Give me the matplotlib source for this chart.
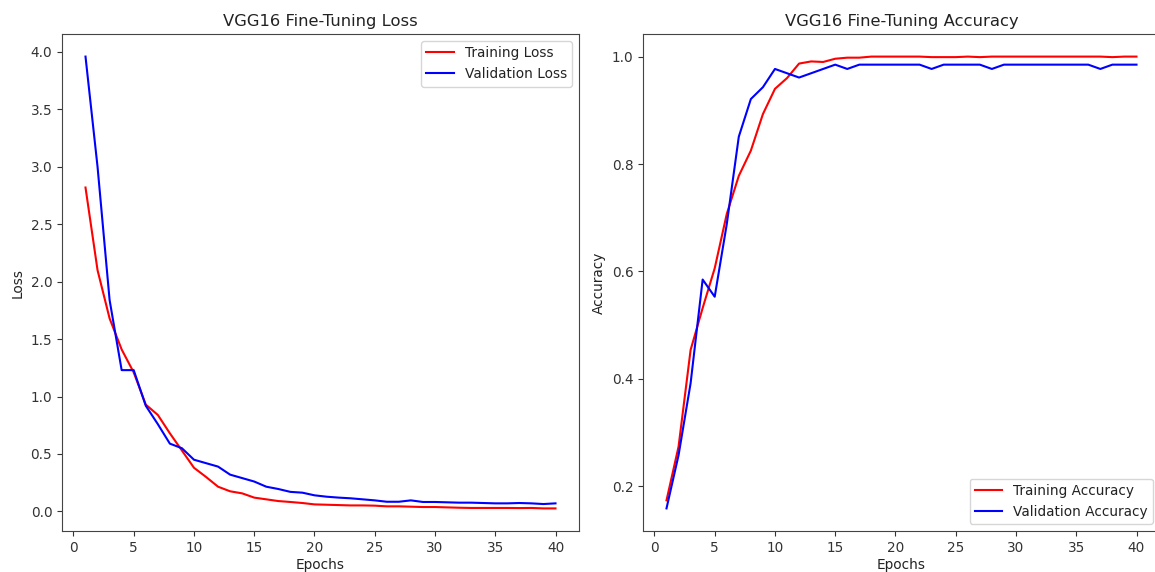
import matplotlib
matplotlib.use("Agg")
import matplotlib.pyplot as plt

epochs = list(range(1, 41))

train_loss = [2.82, 2.10, 1.68, 1.41, 1.21, 0.93, 0.84, 0.68, 0.53, 0.38,
              0.30, 0.215, 0.175, 0.157, 0.12, 0.105, 0.09, 0.082, 0.073, 0.061,
              0.058, 0.055, 0.052, 0.052, 0.050, 0.044, 0.044, 0.041, 0.038, 0.038,
              0.035, 0.032, 0.030, 0.030, 0.030, 0.030, 0.029, 0.030, 0.026, 0.026]
val_loss = [3.96, 3.00, 1.84, 1.23, 1.23, 0.92, 0.76, 0.59, 0.55, 0.45,
            0.42, 0.39, 0.32, 0.29, 0.26, 0.215, 0.195, 0.17, 0.163, 0.14,
            0.128, 0.12, 0.114, 0.105, 0.096, 0.084, 0.084, 0.096, 0.082, 0.082,
            0.079, 0.076, 0.076, 0.073, 0.070, 0.070, 0.073, 0.070, 0.064, 0.070]

train_acc = [0.174, 0.274, 0.454, 0.532, 0.606, 0.707, 0.778, 0.825, 0.893, 0.940,
             0.960, 0.987, 0.991, 0.990, 0.996, 0.998, 0.998, 1.0, 1.0, 1.0,
             1.0, 1.0, 0.999, 0.999, 0.999, 1.0, 0.999, 1.0, 1.0, 1.0,
             1.0, 1.0, 1.0, 1.0, 1.0, 1.0, 1.0, 0.999, 1.0, 1.0]
val_acc = [0.159, 0.258, 0.392, 0.585, 0.553, 0.688, 0.851, 0.921, 0.943, 0.977,
           0.969, 0.961, 0.969, 0.977, 0.985, 0.977, 0.985, 0.985, 0.985, 0.985,
           0.985, 0.985, 0.977, 0.985, 0.985, 0.985, 0.985, 0.977, 0.985, 0.985,
           0.985, 0.985, 0.985, 0.985, 0.985, 0.985, 0.977, 0.985, 0.985, 0.985]

plt.rcParams['font.family'] = ['DejaVu Sans']
plt.rcParams['font.size'] = 9.8
plt.rcParams['text.color'] = '#222222'
plt.rcParams['axes.labelcolor'] = '#222222'
plt.rcParams['xtick.color'] = '#333333'
plt.rcParams['ytick.color'] = '#333333'
plt.rcParams['axes.edgecolor'] = '#444444'

W, H = 1155, 572
fig = plt.figure(figsize=(W / 100, H / 100), dpi=100)
ax1 = fig.add_axes([62 / W, 41 / H, 517 / W, 497 / H])
ax2 = fig.add_axes([643 / W, 41 / H, 517 / W, 497 / H])

ax1.plot(epochs, train_loss, color='red', lw=1.5, label='Training Loss')
ax1.plot(epochs, val_loss, color='blue', lw=1.5, label='Validation Loss')
ax1.set_title('VGG16 Fine-Tuning Loss', fontsize=11.8)
ax1.set_xlabel('Epochs', labelpad=2.5)
ax1.set_ylabel('Loss')
ax1.legend(loc='upper right')

ax2.plot(epochs, train_acc, color='red', lw=1.5, label='Training Accuracy')
ax2.plot(epochs, val_acc, color='blue', lw=1.5, label='Validation Accuracy')
ax2.set_title('VGG16 Fine-Tuning Accuracy', fontsize=11.8)
ax2.set_xlabel('Epochs', labelpad=2.5)
ax2.set_ylabel('Accuracy')
ax2.legend(loc='lower right')

fig.savefig('out.png', dpi=100)
